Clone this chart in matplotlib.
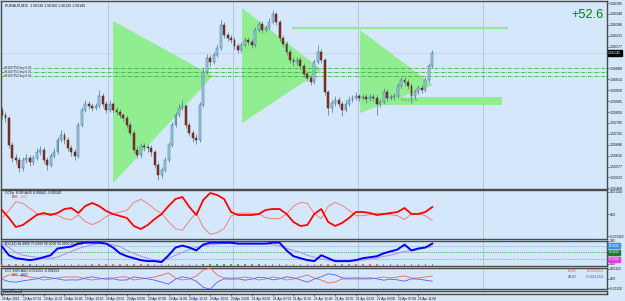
import numpy as np
import matplotlib
matplotlib.use("Agg")
import matplotlib.pyplot as plt
from matplotlib.patches import Polygon, Rectangle

W, H = 625, 301
BG = "#d5e7fa"

# ---- EURAUD candles (one candle per 40 min, 19-22 Apr 2021) ----
first_open = 1.55860
close = [1.55835, 1.55820, 1.55685, 1.55620, 1.55610, 1.55570, 1.55610, 1.55620, 1.55600, 1.55620,
         1.55650, 1.55660, 1.55610, 1.55585, 1.55630, 1.55650, 1.55710, 1.55735, 1.55710, 1.55670,
         1.55650, 1.55630, 1.55785, 1.55860, 1.55890, 1.55880, 1.55870, 1.55880, 1.55930, 1.55890,
         1.55860, 1.55890, 1.55860, 1.55850, 1.55835, 1.55820, 1.55785, 1.55745, 1.55660, 1.55635,
         1.55680, 1.55675, 1.55670, 1.55650, 1.55585, 1.55535, 1.55560, 1.55610, 1.55685, 1.55785,
         1.55835, 1.55870, 1.55880, 1.55785, 1.55745, 1.55720, 1.55710, 1.55885, 1.56050, 1.56120,
         1.56100, 1.56135, 1.56170, 1.56285, 1.56235, 1.56220, 1.56210, 1.56180, 1.56160, 1.56185,
         1.56210, 1.56200, 1.56185, 1.56260, 1.56290, 1.56260, 1.56270, 1.56300, 1.56340, 1.56300,
         1.56220, 1.56190, 1.56150, 1.56110, 1.56100, 1.56110, 1.56080, 1.56040, 1.56020, 1.56000,
         1.56100, 1.56150, 1.56110, 1.55950, 1.55870, 1.55895, 1.55910, 1.55890, 1.55860, 1.55890,
         1.55910, 1.55920, 1.55930, 1.55920, 1.55925, 1.55915, 1.55925, 1.55920, 1.55890, 1.55900,
         1.55950, 1.55920, 1.55925, 1.55930, 1.55980, 1.56010, 1.56000, 1.55980, 1.55930, 1.55950,
         1.55970, 1.55960, 1.56010, 1.56080, 1.56145]
high = [1.55880, 1.55850, 1.55830, 1.55700, 1.55640, 1.55625, 1.55625, 1.55640, 1.55635, 1.55635,
        1.55670, 1.55680, 1.55675, 1.55625, 1.55645, 1.55670, 1.55725, 1.55760, 1.55750, 1.55725,
        1.55685, 1.55665, 1.55800, 1.55875, 1.55910, 1.55905, 1.55895, 1.55895, 1.55960, 1.55945,
        1.55905, 1.55910, 1.55900, 1.55875, 1.55865, 1.55845, 1.55835, 1.55800, 1.55760, 1.55680,
        1.55695, 1.55695, 1.55690, 1.55685, 1.55660, 1.55600, 1.55575, 1.55625, 1.55700, 1.55800,
        1.55850, 1.55890, 1.55910, 1.55890, 1.55800, 1.55760, 1.55740, 1.55900, 1.56070, 1.56140,
        1.56135, 1.56150, 1.56190, 1.56310, 1.56300, 1.56250, 1.56235, 1.56225, 1.56195, 1.56200,
        1.56225, 1.56225, 1.56215, 1.56275, 1.56305, 1.56305, 1.56285, 1.56320, 1.56360, 1.56350,
        1.56310, 1.56235, 1.56205, 1.56165, 1.56125, 1.56125, 1.56125, 1.56095, 1.56055, 1.56035,
        1.56115, 1.56185, 1.56165, 1.56120, 1.55960, 1.55910, 1.55930, 1.55925, 1.55905, 1.55910,
        1.55930, 1.55935, 1.55950, 1.55940, 1.55940, 1.55940, 1.55940, 1.55940, 1.55935, 1.55915,
        1.55970, 1.55965, 1.55940, 1.55945, 1.55995, 1.56025, 1.56025, 1.56015, 1.55995, 1.55965,
        1.55985, 1.55985, 1.56025, 1.56095, 1.56160]
low = [1.55815, 1.55800, 1.55670, 1.55600, 1.55590, 1.55550, 1.55555, 1.55595, 1.55580, 1.55585,
       1.55610, 1.55635, 1.55595, 1.55560, 1.55575, 1.55620, 1.55640, 1.55700, 1.55690, 1.55655,
       1.55630, 1.55610, 1.55620, 1.55775, 1.55850, 1.55865, 1.55855, 1.55860, 1.55870, 1.55875,
       1.55845, 1.55850, 1.55845, 1.55835, 1.55820, 1.55805, 1.55770, 1.55730, 1.55645, 1.55620,
       1.55620, 1.55655, 1.55650, 1.55630, 1.55570, 1.55510, 1.55520, 1.55550, 1.55600, 1.55675,
       1.55775, 1.55825, 1.55860, 1.55770, 1.55730, 1.55700, 1.55690, 1.55700, 1.55875, 1.56040,
       1.56080, 1.56090, 1.56125, 1.56160, 1.56220, 1.56205, 1.56195, 1.56165, 1.56145, 1.56150,
       1.56175, 1.56185, 1.56170, 1.56175, 1.56250, 1.56245, 1.56250, 1.56260, 1.56290, 1.56285,
       1.56205, 1.56175, 1.56135, 1.56095, 1.56080, 1.56085, 1.56065, 1.56025, 1.56005, 1.55985,
       1.55990, 1.56090, 1.56095, 1.55935, 1.55835, 1.55850, 1.55880, 1.55875, 1.55830, 1.55850,
       1.55880, 1.55900, 1.55910, 1.55905, 1.55910, 1.55895, 1.55905, 1.55905, 1.55835, 1.55875,
       1.55890, 1.55905, 1.55910, 1.55910, 1.55920, 1.55970, 1.55985, 1.55965, 1.55895, 1.55915,
       1.55940, 1.55945, 1.55950, 1.56000, 1.56070]

time_labels = ["19 Apr 2021", "19 Apr 07:00", "19 Apr 11:00", "19 Apr 15:00", "19 Apr 19:00",
               "19 Apr 23:00", "20 Apr 03:00", "20 Apr 07:00", "20 Apr 11:00", "20 Apr 15:00",
               "20 Apr 19:00", "20 Apr 23:00", "21 Apr 03:00", "21 Apr 07:00", "21 Apr 11:00",
               "21 Apr 15:00", "21 Apr 19:00", "21 Apr 23:00", "22 Apr 03:00", "22 Apr 07:00",
               "22 Apr 11:00"]

# chart objects: (bar index, price)
triangles = [
    [(32.0, 1.56305), (32.0, 1.55495), (60.8, 1.56030)],
    [(69.2, 1.56370), (69.2, 1.55795), (92.2, 1.56060)],
    [(103.2, 1.56260), (103.2, 1.55845), (124.2, 1.55985)],
]
target_level = 1.56268
target_span = (83.6, 145.8)
entry_box = (103.2, 144.1, 1.55885, 1.55925)
order_levels = [1.56070, 1.56050, 1.56030]
order_labels = ["#61927350 buy 0.01", "#61927351 buy 0.01", "#61927352 buy 0.01"]
profit = "+52.6"

# ---- indicators, sampled every 2nd bar ----
ccf_eur = [0.00024, -0.00024, -0.00078, -0.00066, -0.00036, -0.00006, 0.00006, -0.00006, 0.00006, 0.00030,
           0.00036, 0.00006, 0.00048, 0.00066, 0.00048, 0.00018, 0.00000, -0.00012, -0.00024, -0.00072,
           -0.00090, -0.00066, -0.00030, 0.00000, 0.00048, 0.00090, 0.00102, 0.00042, -0.00006, 0.00084,
           0.00126, 0.00114, 0.00090, 0.00012, -0.00006, -0.00006, -0.00006, 0.00000, 0.00024, 0.00030,
           0.00030, 0.00000, -0.00048, -0.00072, -0.00066, 0.00000, 0.00030, -0.00048, -0.00072, -0.00054,
           -0.00024, 0.00012, 0.00012, 0.00006, -0.00006, 0.00000, 0.00006, 0.00012, 0.00036, 0.00000,
           0.00000, 0.00012, 0.00042]
ccf_aud = [-0.00022, 0.00020, 0.00074, 0.00064, 0.00034, 0.00004, -0.00008, 0.00004, -0.00008, -0.00028,
           -0.00034, -0.00006, -0.00046, -0.00064, -0.00046, -0.00016, 0.00002, 0.00012, 0.00022, 0.00070,
           0.00088, 0.00064, 0.00028, 0.00002, -0.00046, -0.00088, -0.00098, -0.00040, 0.00006, -0.00080,
           -0.00122, -0.00112, -0.00088, -0.00012, 0.00004, 0.00006, 0.00004, 0.00002, -0.00022, -0.00028,
           -0.00028, 0.00000, 0.00046, 0.00070, 0.00064, 0.00002, -0.00028, 0.00046, 0.00070, 0.00052,
           0.00022, -0.00010, -0.00010, -0.00004, 0.00006, 0.00002, -0.00004, -0.00010, -0.00034, 0.00002,
           0.00002, -0.00010, -0.00040]
rsi_main = [75.6, 37.1, 24.3, 20.1, 15.8, 20.1, 28.6, 37.1, 67.0, 71.3,
            75.6, 88.4, 92.7, 92.7, 92.7, 88.4, 71.3, 45.7, 32.9, 24.3,
            15.8, 11.5, 11.5, 7.3, 37.1, 71.3, 79.8, 71.3, 58.5, 84.1,
            92.7, 92.7, 92.7, 92.7, 88.4, 88.4, 88.4, 88.4, 88.4, 92.7,
            92.7, 58.5, 32.9, 24.3, 15.8, 11.5, 37.1, 24.3, 11.5, 11.5,
            11.5, 15.8, 24.3, 28.6, 32.9, 45.7, 54.2, 62.8, 84.1, 58.5,
            67.0, 71.3, 88.4]
rsi_signal = [92.7, 71.3, 50.0, 37.1, 32.9, 28.6, 24.3, 24.3, 28.6, 41.4,
              54.2, 67.0, 75.6, 84.1, 88.4, 88.4, 84.1, 75.6, 58.5, 45.7,
              32.9, 24.3, 15.8, 11.5, 24.3, 37.1, 50.0, 62.8, 71.3, 79.8,
              84.1, 86.3, 88.4, 88.4, 88.4, 88.4, 88.4, 88.4, 88.4, 84.1,
              79.8, 67.0, 58.5, 50.0, 37.1, 28.6, 20.1, 15.8, 11.5, 11.5,
              11.5, 15.8, 15.8, 20.1, 24.3, 32.9, 37.1, 45.7, 54.2, 58.5,
              62.8, 71.3, 75.6]
rsi_state = ["dn"] * 4 + ["fl"] + ["dn"] * 24 + ["up"] * 12 + ["dn"] * 15 + ["up"] * 7
cci_eur = [0.00006, 0.00044, 0.00044, 0.00032, 0.00019, 0.00006, -0.00019, -0.00006, 0.00006, 0.00019,
           0.00019, 0.00019, -0.00006, -0.00019, -0.00006, 0.00006, 0.00006, 0.00019, 0.00019, -0.00019,
           -0.00006, 0.00006, 0.00019, 0.00044, 0.00069, 0.00006, -0.00019, -0.00006, 0.00032, 0.00107,
           0.00132, 0.00044, 0.00006, 0.00006, 0.00006, 0.00019, 0.00006, -0.00019, -0.00006, 0.00019,
           0.00006, -0.00019, -0.00006, 0.00019, 0.00044, 0.00006, -0.00019, -0.00057, -0.00044, -0.00006,
           -0.00006, -0.00006, -0.00006, -0.00006, 0.00006, 0.00019, 0.00006, 0.00019, 0.00032, 0.00006,
           0.00006, 0.00019, 0.00032]
cci_aud = [-0.00008, -0.00040, -0.00046, -0.00030, -0.00017, -0.00004, 0.00021, 0.00008, -0.00004, -0.00021,
           -0.00017, -0.00019, 0.00008, 0.00021, 0.00004, -0.00008, -0.00004, -0.00021, -0.00017, 0.00021,
           0.00008, -0.00004, -0.00021, -0.00046, -0.00071, -0.00008, 0.00021, 0.00004, -0.00034, -0.00110,
           -0.00135, -0.00046, -0.00004, -0.00008, -0.00004, -0.00021, -0.00008, 0.00017, 0.00008, -0.00017,
           -0.00004, 0.00021, 0.00008, -0.00017, -0.00046, -0.00008, 0.00021, 0.00059, 0.00046, 0.00008,
           0.00004, 0.00008, 0.00004, 0.00008, -0.00004, -0.00021, -0.00008, -0.00017, -0.00034, -0.00004,
           -0.00008, -0.00021, -0.00034]

STEP = 3.47           # pixels per bar
X0 = 2                # pixel of bar 0
plt.rcParams["font.family"] = ["Liberation Sans", "DejaVu Sans"]
NARROW = ["Liberation Sans Narrow", "Liberation Sans", "DejaVu Sans"]
fig = plt.figure(figsize=(W / 100, H / 100), dpi=100, facecolor=BG)


def px_axes(x0, y0, x1, y1, labelsize=2.5):
    ax = fig.add_axes([x0 / W, 1 - y1 / H, (x1 - x0) / W, (y1 - y0) / H])
    ax.set_facecolor(BG)
    ax.set_xlim((x0 - X0) / STEP, (x1 - X0) / STEP)
    for s in ax.spines.values():
        s.set_color("#4a4a4a")
        s.set_linewidth(1.0)
    ax.yaxis.tick_right()
    ax.tick_params(axis="y", labelsize=labelsize, length=1.5, width=0.4, pad=0.5, colors="#111111")
    ax.tick_params(axis="x", bottom=False, labelbottom=False)
    for g in 30.5 + 36 * np.arange(4):
        ax.axvline(g, color="#7f8c9c", lw=0.6, ls=(0, (1, 1.4)), zorder=1)
    return ax


def ptext(x, y, s, **kw):
    fig.text(x / W, 1 - y / H, s, **kw)


# ---- main price window ----
ax = px_axes(1, 1, 607, 189, labelsize=2.6)
ax.set_ylim(1.55465, 1.56405)
close = np.array(close)
opens = np.r_[first_open, close[:-1]]
xb = np.arange(len(close))
up = close >= opens

for tri in triangles:
    ax.add_patch(Polygon(tri, closed=True, fc="#90ee90", ec="none", zorder=2))
ax.add_patch(Rectangle((entry_box[0], entry_box[2]), entry_box[1] - entry_box[0],
                       entry_box[3] - entry_box[2], fc="#90ee90", ec="none", zorder=2))
ax.hlines(target_level, *target_span, color="#90ee90", lw=1.6, zorder=2)
ax.text(115, 1.55905, "Entry here", fontsize=2.6, color="#7a8a7a", zorder=5)
for lvl, lab in zip(order_levels, order_labels):
    ax.axhline(lvl, color="#3caa3c", lw=0.6, ls=(0, (4, 1.5, 1, 1.5)), zorder=3)
    ax.text(0.6, lvl, lab, fontsize=2.2, color="#222222", va="center", zorder=5,
            bbox=dict(fc=BG, ec="none", pad=0.1))
ax.axhline(close[-1], color="#c4d6ea", lw=0.6, zorder=1)

ax.vlines(xb, low, high, color="#4a7896", lw=0.5, zorder=3)
ax.bar(xb[up], np.maximum((close - opens)[up], 0.00002), bottom=opens[up], width=0.55,
       color="#a9cce6", edgecolor="#2f6a8a", lw=0.35, zorder=4)
ax.bar(xb[~up], (close - opens)[~up], bottom=opens[~up], width=0.55,
       color="#8e2f22", edgecolor="#4f2620", lw=0.35, zorder=4)

ticks = 1.56395 - 0.000545 * np.arange(18)
ticks = np.delete(ticks, 5)
ax.set_yticks(ticks)
ax.set_yticklabels([f"{t:.5f}" for t in ticks])
ax.text(1.002, close[-1], f"{close[-1]:.5f}", transform=ax.get_yaxis_transform(),
        fontsize=2.6, color="white", va="center", ha="left",
        bbox=dict(fc="black", ec="black", pad=0.5), clip_on=False)
ax.text(0.995, 0.925, profit, transform=ax.transAxes, fontsize=9.2, color="#008000",
        ha="right", va="center")
ptext(5, 6, "EURAUD,M15  1.56130 1.56160 1.56125 1.56145", fontsize=2.6, color="#111111", va="center")

# ---- CCFp window ----
xi = np.arange(len(ccf_eur)) * 2
ax2 = px_axes(1, 190, 607, 239, labelsize=2.3)
ax2.set_ylim(-0.0015, 0.00144)
ax2.plot(xi, ccf_aud, color="#f08080", lw=0.7, zorder=3)
ax2.plot(xi, ccf_eur, color="#ff0000", lw=1.3, zorder=4)
ax2.set_yticks([0.00132, 0, -0.00132])
ax2.set_yticklabels(["0.001320", "0.00", "-0.001320"])
ptext(5, 193, "CCFp  EUR AUD 0.00042 -0.00040", fontsize=2.6, color="#111111", va="center")
ptext(12, 197.5, "EUR", fontsize=2.2, color="#ff0000", va="center")
ptext(21, 197.5, "AUD", fontsize=2.2, color="#f08080", va="center")

# ---- RSI window ----
ax3 = px_axes(1, 241, 607, 266, labelsize=2.3)
ax3.set_ylim(-10, 100)
for lvl, col in [(80, "#6aaaf0"), (50, "#2e9e4a"), (20, "#cc66dd")]:
    ax3.axhline(lvl, color=col, lw=0.6, ls=(0, (1, 1.2)), zorder=2)
state_col = {"up": "#5aa05a", "dn": "#e07070", "fl": "#6a8ae0"}
ax3.scatter(xi, [-6] * len(xi), c=[state_col[s] for s in rsi_state], marker="s", s=1.2,
            linewidths=0, zorder=3)
ax3.plot(xi, rsi_signal, color="#b48ae8", lw=0.7, zorder=3)
ax3.plot(xi, rsi_main, color="#0000ff", lw=1.4, zorder=4)
ax3.set_yticks([100, 0])
ax3.set_yticklabels(["100", "0.00"])
for lvl, col in [(80, "#3b8ee8"), (50, "#1f7a32"), (20, "#e040e0")]:
    ax3.text(1.003, lvl, f"{lvl:.4f}", transform=ax3.get_yaxis_transform(), fontsize=2.2,
             color="white", va="center", ha="left", bbox=dict(fc=col, ec=col, pad=0.35), clip_on=False)
ptext(5, 243.5, "RSI(14) 88.4000 75.6000 80.0000 50.0000 20.0000", fontsize=2.4, color="#111111",
      va="center")

# ---- CCI window ----
ax4 = px_axes(1, 268, 607, 289, labelsize=2.3)
ax4.set_ylim(-0.00132, 0.00132)
ax4.plot(xi, cci_eur, color="#ff5a5a", lw=0.6, zorder=3)
ax4.plot(xi, cci_aud, color="#5a5aff", lw=0.6, zorder=3)
ax4.set_yticks([0.0012, 0, -0.0012])
ax4.set_yticklabels(["0.00120", "0.00", "-0.00120"])
ptext(5, 270.5, "CCI  EUR AUD 0.001253 -0.001253", fontsize=2.4, color="#111111", va="center")
ptext(12, 275, "EUR", fontsize=2.2, color="#ff0000", va="center")
ptext(21, 275, "AUD", fontsize=2.2, color="#0000ff", va="center")
for y, name, val, col in [(271, "EUR", "0.001253", "#ff4a4a"), (277, "AUD", "-0.001253", "#4a4aff")]:
    ptext(568, y, name, fontsize=3.0, color=col, va="center", zorder=10)
    ptext(604, y, val, fontsize=3.0, color=col, va="center", ha="right", zorder=10)

# ---- empty channel window + time axis ----
ax5 = px_axes(1, 291, 607, 294)
ax5.set_yticks([])
ptext(3, 292.5, "[SuvidaChannel]", fontsize=2.0, color="#111111", va="center")
ax5.set_xticks(np.arange(len(time_labels)) * 6)
ax5.set_xticklabels(time_labels, ha="left", family=NARROW)
ax5.tick_params(axis="x", bottom=True, labelbottom=True, labelsize=2.3, length=1.5, width=0.4,
                pad=0.6, colors="#111111")

fig.savefig("out.png", dpi=100, facecolor=BG)
